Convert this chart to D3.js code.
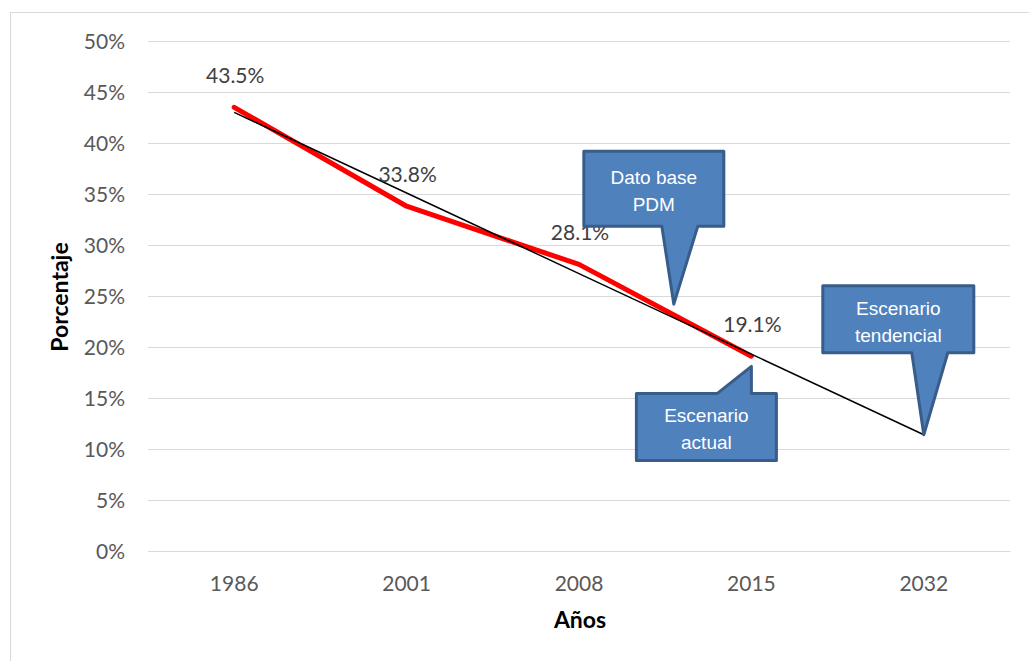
<!DOCTYPE html>
<head>
    <meta charset="utf-8">
    <script src="https://d3js.org/d3.v7.min.js"></script>
</head>
<body style="background: white; margin: 0">
    <div id="my_dataviz"></div>
    <script>
        // data
        var years = ["1986", "2001", "2008", "2015", "2032"]
        var observed = [43.5, 33.8, 28.1, 19.1]      // red series, first four years
        var trend = [43.0, 35.1, 27.2, 19.3, 11.4]   // black linear trend
        var yTicks = [0, 5, 10, 15, 20, 25, 30, 35, 40, 45, 50]

        // callouts: tip sits at (year index, value), box placed relative to tip
        var notes = [
            { lines: ["Dato base", "PDM"], at: 2.55, val: 24.2, dx: -90, dy: -153, w: 140, h: 75, side: "bottom" },
            { lines: ["Escenario", "actual"], at: 3.0, val: 18.1, dx: -115, dy: 27, w: 140, h: 67, side: "top" },
            { lines: ["Escenario", "tendencial"], at: 4.0, val: 11.4, dx: -101, dy: -149, w: 151, h: 67, side: "bottom" }
        ]

        var W = 1029, H = 661
        var margin = { top: 41, right: 19, bottom: 110, left: 148 },
            width = W - margin.left - margin.right,
            height = H - margin.top - margin.bottom
        var font = "Lato, 'Open Sans', sans-serif"

        var root = d3.select("#my_dataviz").append("svg")
            .attr("width", W).attr("height", H)

        // chart frame
        root.append("rect")
            .attr("x", 10.5).attr("y", 12.5)
            .attr("width", W).attr("height", H)
            .attr("fill", "none").attr("stroke", "#d9d9d9")

        var svg = root.append("g")
            .attr("transform", "translate(" + margin.left + "," + margin.top + ")")

        var x = d3.scaleBand().domain(years).range([0, width])
        var y = d3.scaleLinear().domain([0, 50]).range([height, 0])
        var cx = function (i) { return x.step() * (i + 0.5) }

        // gridlines + y labels
        svg.append("g")
            .call(d3.axisLeft(y).tickValues(yTicks).tickSize(-width).tickFormat(function (d) { return d + "%" }))
            .call(function (g) {
                g.select(".domain").remove()
                g.selectAll(".tick line").attr("stroke", "#d9d9d9")
                g.selectAll(".tick text").attr("x", -23).attr("dy", "0.35em").attr("fill", "#595959")
                    .style("font-size", "21px").style("font-family", font)
            })

        // x labels
        svg.append("g")
            .attr("transform", "translate(0," + height + ")")
            .call(d3.axisBottom(x).tickSize(0))
            .call(function (g) {
                g.select(".domain").attr("stroke", "#d9d9d9")
                g.selectAll(".tick text").attr("y", 40).attr("dy", 0).attr("fill", "#595959")
                    .style("font-size", "21px").style("font-family", font)
            })

        // axis titles
        svg.append("text")
            .attr("x", width / 2 + 1).attr("y", height + 77)
            .attr("text-anchor", "middle")
            .style("font-size", "23px").style("font-weight", "bold")
            .style("font-family", font)
            .text("Años")
        svg.append("text")
            .attr("transform", "translate(-80," + (height / 2 + 1) + ") rotate(-90)")
            .attr("text-anchor", "middle")
            .style("font-size", "23px").style("font-weight", "bold")
            .style("font-family", font)
            .text("Porcentaje")

        var line = d3.line()
            .x(function (d, i) { return cx(i) })
            .y(function (d) { return y(d) })

        // observed series
        svg.append("path")
            .datum(observed)
            .attr("d", line)
            .attr("fill", "none").attr("stroke", "#ff0000")
            .attr("stroke-width", 5).attr("stroke-linecap", "round").attr("stroke-linejoin", "round")

        // trend line
        svg.append("path")
            .datum(trend)
            .attr("d", line)
            .attr("fill", "none").attr("stroke", "#000")
            .attr("stroke-width", 1.5)

        // data labels
        svg.selectAll("lbl")
            .data(observed)
            .enter()
            .append("text")
            .attr("x", function (d, i) { return cx(i) + 1 })
            .attr("y", function (d) { return y(d) - 24 })
            .attr("text-anchor", "middle")
            .attr("fill", "#404040")
            .style("font-size", "21px").style("font-family", font)
            .text(function (d) { return d.toFixed(1) + "%" })

        // callouts
        notes.forEach(function (n) {
            var tx = cx(n.at), ty = y(n.val)
            var bx = tx + n.dx, by = ty + n.dy, bw = n.w, bh = n.h
            var pts
            if (n.side === "bottom") {
                var p0 = tx - 12, p1 = tx + 24
                pts = [[bx, by], [bx + bw, by], [bx + bw, by + bh], [p1, by + bh], [tx, ty], [p0, by + bh], [bx, by + bh]]
            } else {
                var q0 = tx - 34
                pts = [[bx, by], [q0, by], [tx, ty], [tx, by], [bx + bw, by], [bx + bw, by + bh], [bx, by + bh]]
            }
            svg.append("path")
                .attr("d", "M" + pts.join("L") + "Z")
                .attr("fill", "#4f81bd").attr("stroke", "#385d8a")
                .attr("stroke-width", 3).attr("stroke-linejoin", "round")
            n.lines.forEach(function (t, k) {
                svg.append("text")
                    .attr("x", bx + bw / 2).attr("y", by + bh / 2 - 4.5 + k * 27)
                    .attr("text-anchor", "middle").attr("fill", "white")
                    .style("font-size", "19px").style("font-family", "'Liberation Sans', Arial, sans-serif")
                    .text(t)
            })
        })
    </script>
</body>
</html>
